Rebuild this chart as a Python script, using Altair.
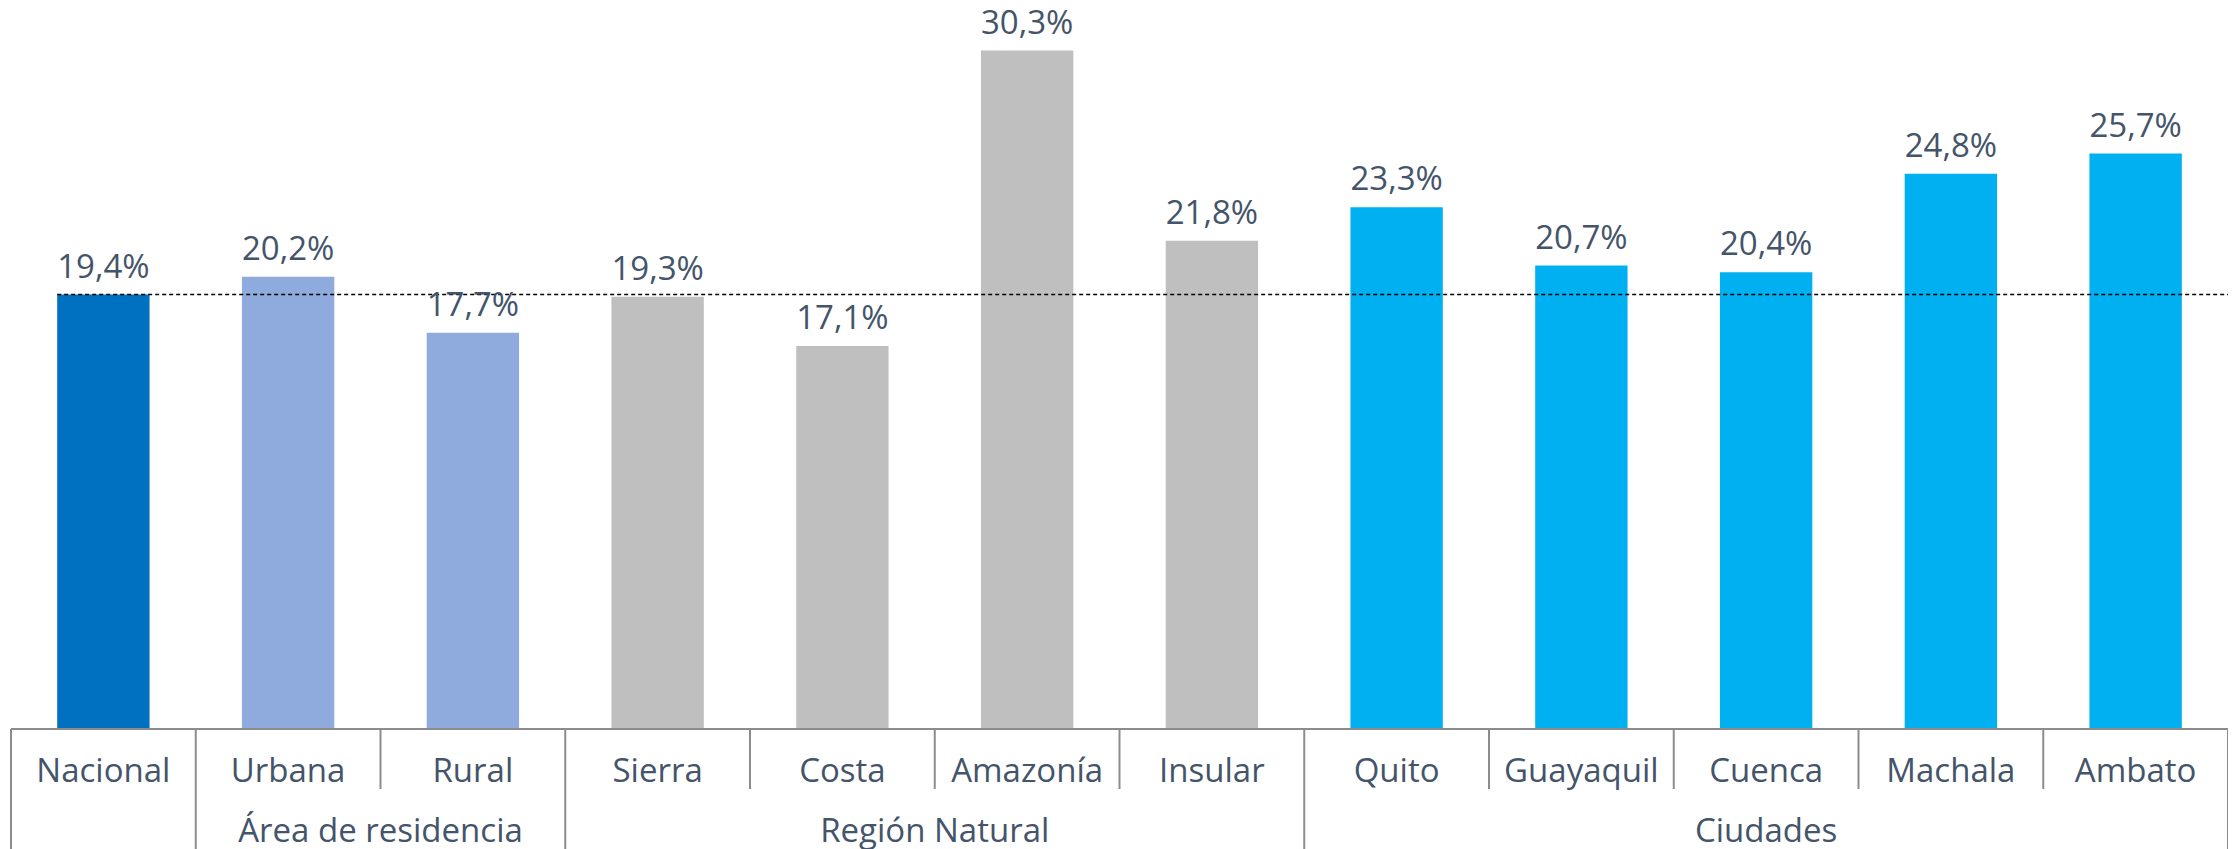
import altair as alt
import pandas as pd

categories = ["Nacional", "Urbana", "Rural", "Sierra", "Costa", "Amazonía", "Insular",
              "Quito", "Guayaquil", "Cuenca", "Machala", "Ambato"]
values = [19.4, 20.2, 17.7, 19.3, 17.1, 30.3, 21.8, 23.3, 20.7, 20.4, 24.8, 25.7]
groups = ["", "Área de residencia", "Área de residencia",
          "Región Natural", "Región Natural", "Región Natural", "Región Natural",
          "Ciudades", "Ciudades", "Ciudades", "Ciudades", "Ciudades"]
group_keys = ["nac", "area", "area", "reg", "reg", "reg", "reg",
              "city", "city", "city", "city", "city"]
color_domain = ["nac", "area", "reg", "city"]
color_range = ["#0070C0", "#8FAADC", "#BFBFBF", "#00B0F0"]
reference_value = 19.4

FONT = "Open Sans"
TXT = "#44546A"
GRID = "#8C8C8C"
FS = 33

W, H = 2217, 721

bars = pd.DataFrame({
    "cat": categories,
    "val": values,
    "grp": group_keys,
    "idx": list(range(len(categories))),
    "label": [f"{v:.1f}".replace(".", ",") + "%" for v in values],
})

# boundaries: short dividers inside groups, long dividers at group edges
bounds = []
for i in range(len(categories) + 1):
    if i == 0 or i == len(categories) or groups[i] != groups[i - 1]:
        bounds.append({"b": i, "kind": "long"})
    else:
        bounds.append({"b": i, "kind": "short"})
bounds = pd.DataFrame(bounds)

glabels = []
start = 0
for i in range(1, len(categories) + 1):
    if i == len(categories) or groups[i] != groups[start]:
        if groups[start]:
            glabels.append({"g": groups[start], "c": (start + i) / 2})
        start = i
glabels = pd.DataFrame(glabels)

xs = alt.Scale(domain=[0, len(categories)], nice=False, zero=False)
ys = alt.Scale(domain=[0, 32.2], nice=False, zero=True)

base = alt.Chart(bars).transform_calculate(
    x0="datum.idx + 0.25", x1="datum.idx + 0.75", xc="datum.idx + 0.5"
)

bar = base.mark_bar().encode(
    x=alt.X("x0:Q", scale=xs, axis=None),
    x2="x1:Q",
    y=alt.Y("val:Q", scale=ys, axis=None),
    y2=alt.datum(0),
    color=alt.Color("grp:N", scale=alt.Scale(domain=color_domain, range=color_range), legend=None),
)

vlab = base.mark_text(font=FONT, fontSize=FS, color=TXT, baseline="alphabetic", dy=-17).encode(
    x=alt.X("xc:Q", scale=xs), y=alt.Y("val:Q", scale=ys), text="label:N"
)

clab = base.mark_text(font=FONT, fontSize=FS, color=TXT, baseline="alphabetic").encode(
    x=alt.X("xc:Q", scale=xs), y=alt.value(H + 53), text="cat:N"
)

ref = alt.Chart(pd.DataFrame({"y": [reference_value], "a": [0.25], "b": [len(categories)]})).mark_rule(
    color="#000000", strokeDash=[4, 3], strokeWidth=1.5
).encode(x=alt.X("a:Q", scale=xs), x2="b:Q", y=alt.Y("y:Q", scale=ys))

axisline = alt.Chart(pd.DataFrame({"a": [0], "b": [len(categories)]})).mark_rule(
    color=GRID, strokeWidth=2
).encode(x=alt.X("a:Q", scale=xs), x2="b:Q", y=alt.value(H))

short = alt.Chart(bounds).transform_filter("datum.kind == 'short'").mark_rule(
    color=GRID, strokeWidth=2
).encode(x=alt.X("b:Q", scale=xs), y=alt.value(H), y2=alt.value(H + 60))

long_ = alt.Chart(bounds).transform_filter("datum.kind == 'long'").mark_rule(
    color=GRID, strokeWidth=2
).encode(x=alt.X("b:Q", scale=xs), y=alt.value(H), y2=alt.value(H + 130))

glab = alt.Chart(glabels).mark_text(font=FONT, fontSize=FS, color=TXT, baseline="alphabetic").encode(
    x=alt.X("c:Q", scale=xs), y=alt.value(H + 113), text="g:N"
)

chart = alt.layer(bar, ref, axisline, short, long_, vlab, clab, glab).properties(
    width=W, height=H,
    background="white",
    autosize=alt.AutoSizeParams(type="none"),
    padding={"left": 3, "top": 0, "right": 0, "bottom": 130},
).configure_view(stroke=None)

chart.save("out.html", embed_options={"renderer": "svg", "actions": False})
